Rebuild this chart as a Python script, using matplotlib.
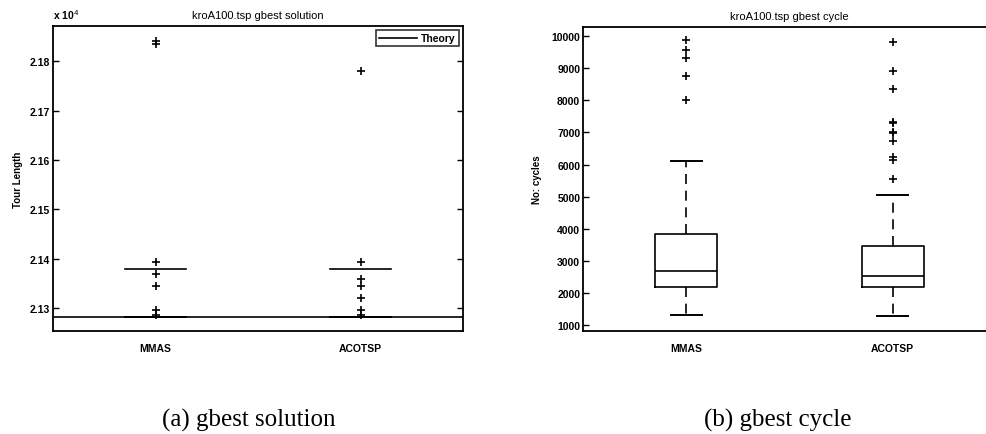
import matplotlib
matplotlib.use("Agg")
import matplotlib.pyplot as plt
from matplotlib.ticker import FuncFormatter

plt.rcParams['font.family'] = ['Liberation Sans', 'DejaVu Sans']

categories = ['MMAS', 'ACOTSP']

# Tour length statistics (kroA100)
tour_med = [21282, 21282]
tour_q1 = [21282, 21282]
tour_q3 = [21282, 21282]
tour_whislo = [21282, 21282]
tour_whishi = [21380, 21380]
tour_fliers = [
    [21841, 21835, 21393, 21370, 21346, 21297, 21287],
    [21779, 21393, 21360, 21346, 21320, 21297, 21287],
]
theory_length = 21282
tour_yticks = [21300, 21400, 21500, 21600, 21700, 21800]

# Cycle at which gbest was found
cycle_med = [2700, 2545]
cycle_q1 = [2180, 2180]
cycle_q3 = [3855, 3462]
cycle_whislo = [1310, 1300]
cycle_whishi = [6105, 5070]
cycle_fliers = [
    [9864, 9554, 9328, 8760, 8000],
    [9814, 8926, 8337, 7330, 7300, 7000, 6990, 6720, 6230, 6140, 5550],
]
cycle_yticks = [1000, 2000, 3000, 4000, 5000, 6000, 7000, 8000, 9000, 10000]

W, H = 986, 435
fig = plt.figure(figsize=(W / 100, H / 100), dpi=100)


def box_axes(x0, y0, x1, y1):
    return fig.add_axes([x0 / W, 1 - y1 / H, (x1 - x0) / W, (y1 - y0) / H])


def style_axes(ax):
    for s in ax.spines.values():
        s.set_linewidth(1.3)
    ax.tick_params(axis='y', direction='in', length=4, width=1.0,
                   labelsize=7.5, right=True, pad=2)
    ax.tick_params(axis='x', direction='in', length=0, labelsize=7.5, pad=9)
    for lbl in ax.get_yticklabels() + ax.get_xticklabels():
        lbl.set_fontweight('bold')


def make_stats(med, q1, q3, lo, hi, fl):
    return [dict(med=med[i], q1=q1[i], q3=q3[i], whislo=lo[i], whishi=hi[i],
                 fliers=fl[i], label=categories[i]) for i in range(len(categories))]


flierprops = dict(marker='+', markersize=6, markeredgecolor='black',
                  markeredgewidth=1.2, linestyle='none')

# ---- (a) gbest solution ----
ax1 = box_axes(53, 27, 463, 332)
ax1.bxp(make_stats(tour_med, tour_q1, tour_q3, tour_whislo, tour_whishi, tour_fliers),
        positions=[1, 2], widths=0.3, showfliers=True, capwidths=0.3,
        boxprops=dict(color='black', linewidth=1.2),
        medianprops=dict(color='black', linewidth=1.2),
        whiskerprops=dict(linestyle='none'),
        capprops=dict(color='black', linewidth=1.2),
        flierprops=flierprops)
theory_line = ax1.axhline(theory_length, color='black', linewidth=1.2, label='Theory')
ax1.set_xlim(0.5, 2.5)
ax1.set_ylim(21254, 21871)
ax1.set_yticks(tour_yticks)
ax1.yaxis.set_major_formatter(FuncFormatter(lambda v, p: f'{v / 1e4:.2f}'))
ax1.set_xticks([1, 2])
ax1.set_xticklabels(categories)
ax1.set_title('kroA100.tsp gbest solution', fontsize=8, pad=6)
ax1.set_ylabel('Tour Length', fontsize=7, labelpad=5, fontweight='bold')
ax1.text(0.0, 1.015, r'x 10$^{4}$', transform=ax1.transAxes, fontsize=7.5,
         fontweight='bold', ha='left', va='bottom')
leg = ax1.legend(handles=[theory_line], loc='upper right', fontsize=7.5,
                 frameon=True, fancybox=False, handlelength=3.6,
                 borderpad=0.3, borderaxespad=0.4, handletextpad=0.4)
leg.get_frame().set_edgecolor('black')
leg.get_frame().set_linewidth(1.2)
for t in leg.get_texts():
    t.set_fontweight('bold')
style_axes(ax1)

# ---- (b) gbest cycle ----
ax2 = box_axes(583, 28, 996, 332)
ax2.bxp(make_stats(cycle_med, cycle_q1, cycle_q3, cycle_whislo, cycle_whishi, cycle_fliers),
        positions=[1, 2], widths=0.3, showfliers=True, capwidths=0.15,
        boxprops=dict(color='black', linewidth=1.2),
        medianprops=dict(color='black', linewidth=1.2),
        whiskerprops=dict(color='black', linewidth=1.2, linestyle=(0, (6, 4))),
        capprops=dict(color='black', linewidth=1.4),
        flierprops=flierprops)
ax2.set_xlim(0.5, 2.5)
ax2.set_ylim(826, 10280)
ax2.set_yticks(cycle_yticks)
ax2.set_xticks([1, 2])
ax2.set_xticklabels(categories)
ax2.set_title('kroA100.tsp gbest cycle', fontsize=8, pad=6)
ax2.set_ylabel('No: cycles', fontsize=7, labelpad=7, fontweight='bold')
style_axes(ax2)

# Captions
fig.text(249 / W, 1 - 427 / H, '(a) gbest solution', fontsize=18,
         family=['Liberation Serif', 'DejaVu Serif'], ha='center', va='baseline')
fig.text(778 / W, 1 - 427 / H, '(b) gbest cycle', fontsize=18,
         family=['Liberation Serif', 'DejaVu Serif'], ha='center', va='baseline')

fig.savefig('out.png', dpi=100)
